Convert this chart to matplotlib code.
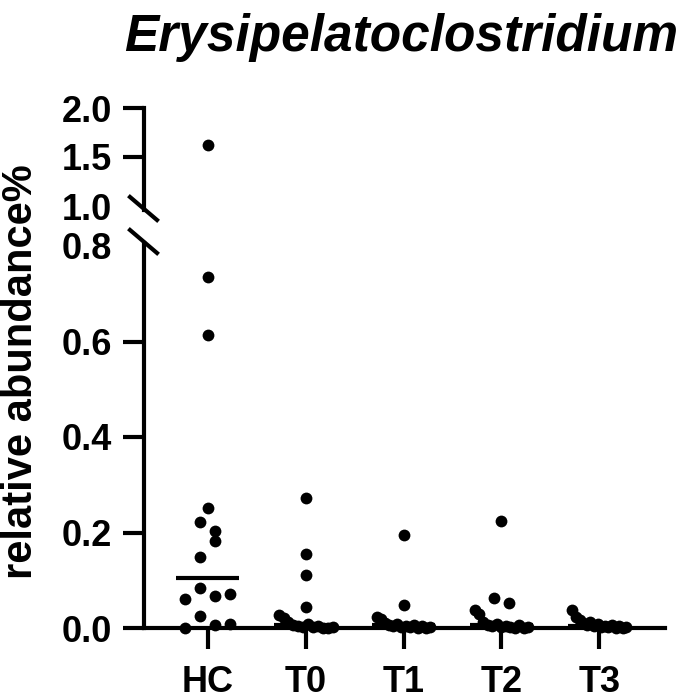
import matplotlib
matplotlib.use("Agg")
import matplotlib.pyplot as plt
import numpy as np
from matplotlib.lines import Line2D

plt.rcParams['font.family'] = ['Liberation Sans', 'DejaVu Sans']
plt.rcParams['font.weight'] = 'bold'

# values (relative abundance %)
groups = ["HC", "T0", "T1", "T2", "T3"]
hc = [1.62, 0.735, 0.614, 0.251, 0.223, 0.203, 0.149, 0.183, 0.061, 0.083,
      0.068, 0.071, 0.0, 0.025, 0.006, 0.008]
t0 = [0.272, 0.155, 0.110, 0.043, 0.027, 0.020, 0.012, 0.006, 0.004, 0.003,
      0.008, 0.002, 0.005, 0.001, 0.0, 0.003]
t1 = [0.195, 0.049, 0.022, 0.018, 0.010, 0.006, 0.004, 0.008, 0.003, 0.005,
      0.002, 0.006, 0.001, 0.004, 0.0, 0.002]
t2 = [0.224, 0.038, 0.029, 0.063, 0.053, 0.012, 0.006, 0.004, 0.008, 0.002,
      0.005, 0.003, 0.001, 0.006, 0.0, 0.002]
t3 = [0.038, 0.024, 0.017, 0.010, 0.006, 0.012, 0.004, 0.008, 0.003, 0.005,
      0.002, 0.006, 0.001, 0.004, 0.0, 0.002]
medians = [0.104, 0.006, 0.006, 0.006, 0.005]
data = [hc, t0, t1, t2, t3]

lo_ticks = [0.0, 0.2, 0.4, 0.6, 0.8]
hi_ticks = [1.0, 1.5, 2.0]
brk = 0.9


def swarm_offsets(vals, h=0.04, step=0.153, max_w=0.55):
    # rows of nearby values are laid out side by side, compressed if crowded
    order = sorted(range(len(vals)), key=lambda i: vals[i])
    rows = []
    for i in order:
        if rows and vals[i] - vals[rows[-1][0]] < h:
            rows[-1].append(i)
        else:
            rows.append([i])
    offs = np.zeros(len(vals))
    for row in rows:
        row = sorted(row)
        n = len(row)
        sp = min(step, max_w / (n - 1)) if n > 1 else 0
        for k, i in enumerate(row):
            offs[i] = (k - (n - 1) / 2) * sp
    return offs


W, H = 685, 699
fig = plt.figure(figsize=(W / 100, H / 100), dpi=100)
left, right = 144, 665
ax_lo = fig.add_axes([left / W, (H - 628) / H, (right - left) / W, (628 - 243) / H])
ax_hi = fig.add_axes([left / W, (H - 210) / H, (right - left) / W, (210 - 108) / H])

lw = 3.0
for ax in (ax_lo, ax_hi):
    ax.set_xlim(-0.65, 4.67)
    for s in ("top", "right"):
        ax.spines[s].set_visible(False)
    for s in ("left", "bottom"):
        ax.spines[s].set_linewidth(lw)
    ax.tick_params(width=lw, length=15, labelsize=26, pad=8)

ax_lo.set_ylim(0, (628 - 243) / 477.5)
ax_hi.set_ylim(2.0 - (210 - 108) / 98, 2.0)
ax_hi.spines["bottom"].set_visible(False)
ax_hi.set_xticks([])

for k, vals in enumerate(data):
    v = np.array(vals)
    x = k + swarm_offsets(vals)
    m = v < brk
    ax_lo.plot(x[m], v[m], 'o', color='black', ms=8.5, mew=0, clip_on=False, zorder=4)
    ax_hi.plot(x[~m], v[~m], 'o', color='black', ms=8.5, mew=0, clip_on=False, zorder=4)
    ax_lo.plot([k - 0.32, k + 0.32], [medians[k], medians[k]], color='black',
               lw=3, solid_capstyle='butt', clip_on=False, zorder=5)

ax_lo.set_xticks(range(len(groups)))
ax_lo.set_xticklabels(groups)
ax_lo.tick_params(axis='x', pad=12)
ax_lo.set_yticks(lo_ticks)
ax_lo.set_yticklabels(["%.1f" % t for t in lo_ticks])
ax_hi.set_yticks(hi_ticks)
ax_hi.set_yticklabels(["%.1f" % t for t in hi_ticks])
ax_lo.yaxis.get_major_ticks()[-1].tick1line.set_visible(False)
ax_hi.yaxis.get_major_ticks()[0].tick1line.set_visible(False)

# axis break marks
for y0 in (197, 230):
    fig.add_artist(Line2D([130 / W, 157 / W], [1 - y0 / H, 1 - (y0 + 23) / H],
                          color='black', lw=lw, transform=fig.transFigure))

fig.text(21 / W, 1 - 372 / H, "relative abundance%", rotation=90,
         ha='center', va='center', fontsize=30, fontweight='bold')
fig.text(401 / W, 1 - 51 / H, "Erysipelatoclostridium", ha='center',
         va='baseline', fontsize=37, fontweight='bold', fontstyle='italic')

fig.savefig("out.png", dpi=100)
